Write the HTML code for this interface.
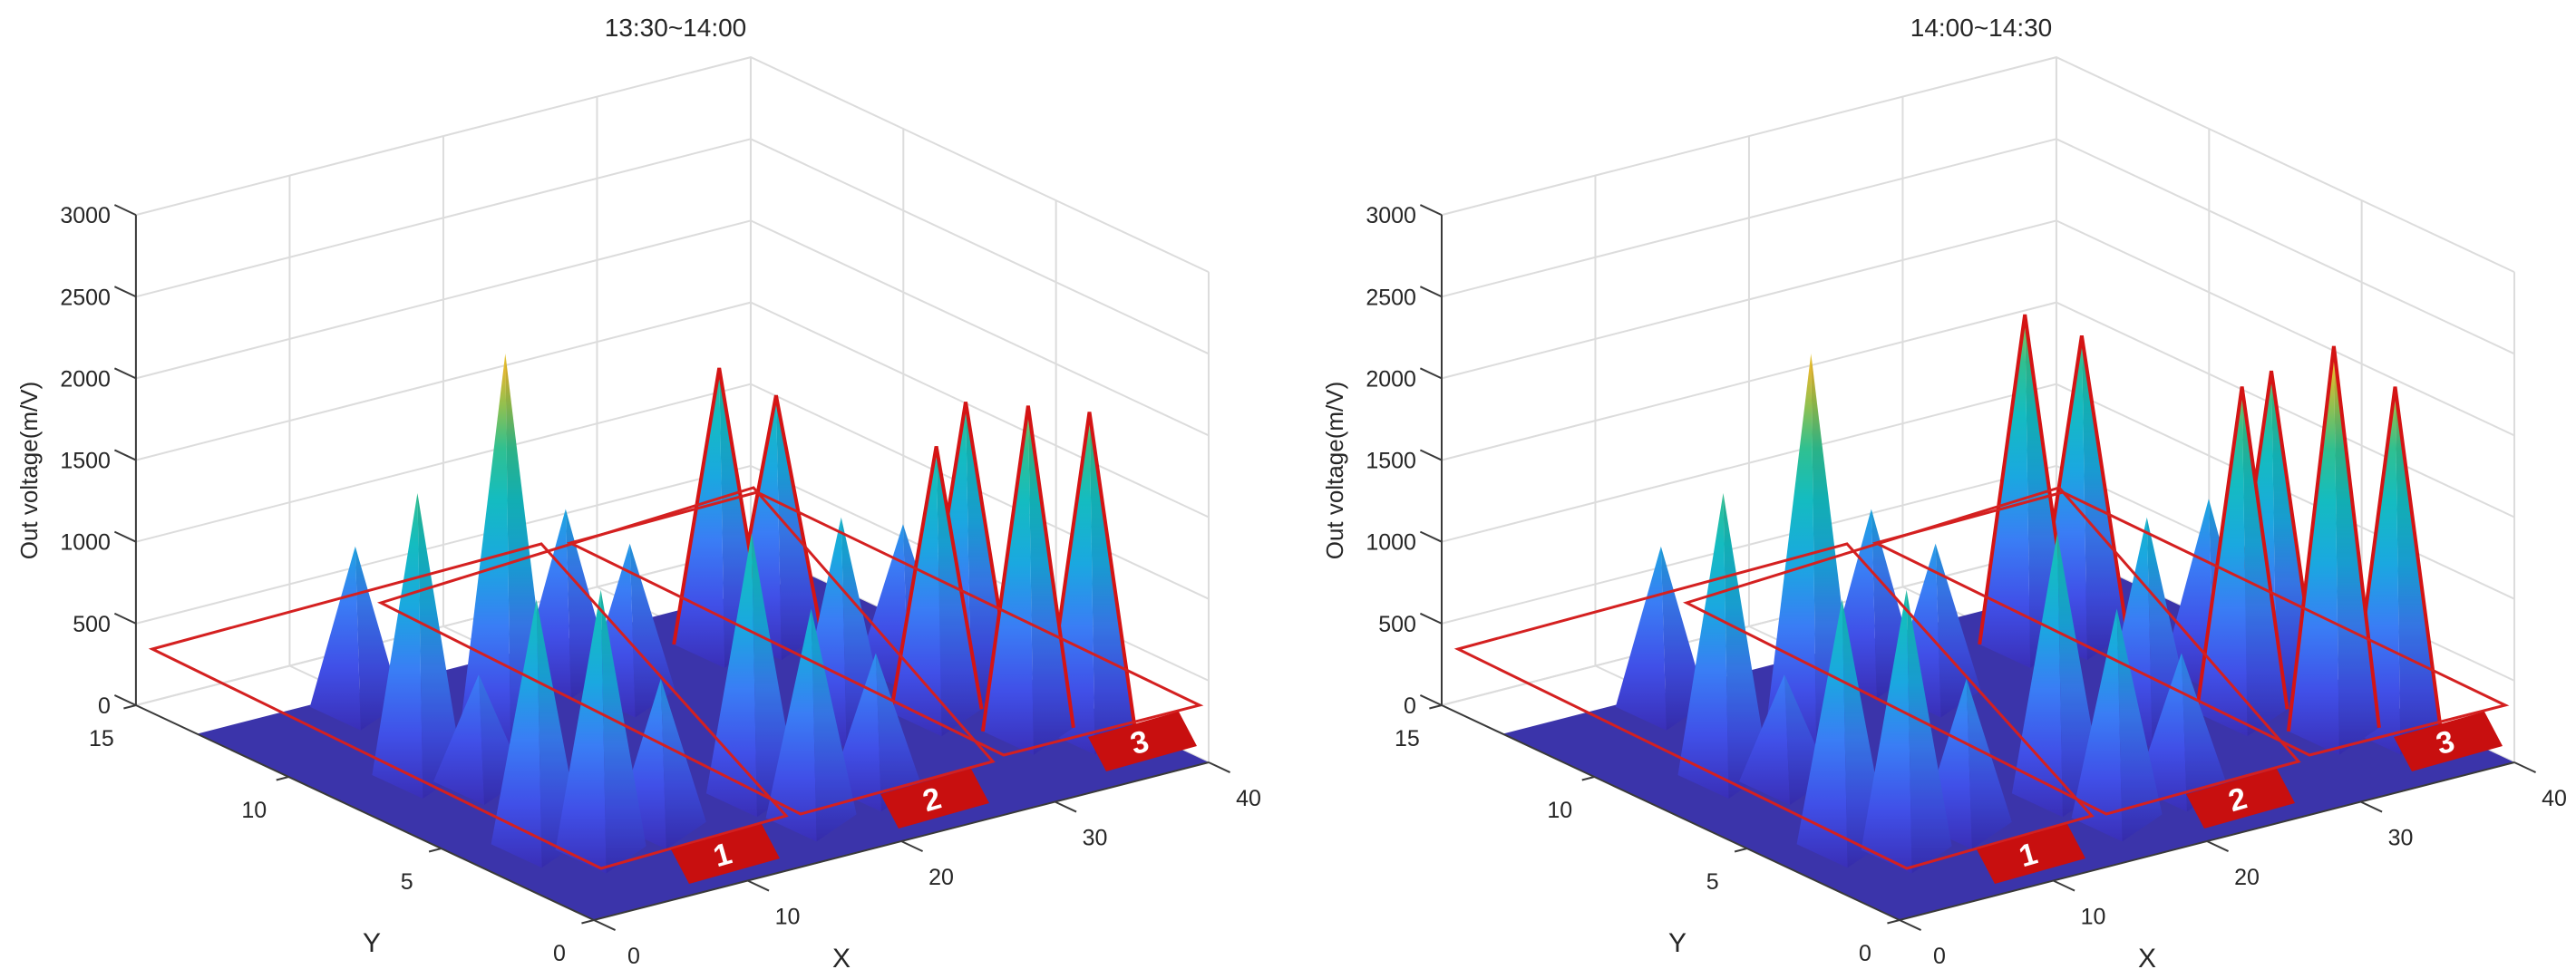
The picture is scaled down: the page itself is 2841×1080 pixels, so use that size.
<!DOCTYPE html>
<html>
<head>
<meta charset="utf-8">
<style>
  html, body { margin: 0; padding: 0; background: #ffffff; }
  svg { display: block; }
  text { font-family: "Liberation Sans", Arial, sans-serif; fill: #262626; }
</style>
</head>
<body>
<svg id="chart" width="2841" height="1080" viewBox="0 0 2841 1080" xmlns="http://www.w3.org/2000/svg">
  <defs id="defs"></defs>
</svg>
<script>
// ---- data ----
const panelTitles = ["13:30~14:00", "14:00~14:30"];
const peakX = [9.9, 6.4, 14.1, 21.6, 22.6, 5.2, 7.4, 12.1, 8.4, 30.8, 33.9, 18.8, 28.8, 36.4, 19.1, 24.5, 33.8, 37.3, 36.0, 38.6];
const peakY = [12.8, 9.0, 10.0, 11.8, 10.2, 4.5, 3.5, 3.9, 8.0, 11.4, 11.1, 4.3, 6.4, 8.2, 2.5, 3.1, 5.8, 6.6, 3.9, 3.2];
const zLeft = [926, 1669, 2250, 960, 865, 1442, 1536, 843, 599, 1636, 1420, 1536, 1209, 826, 1226, 771, 1575, 1692, 1936, 1897];
const zRight = [926, 1669, 2250, 960, 865, 1442, 1536, 843, 599, 1963, 1785, 1536, 1209, 981, 1226, 771, 1940, 1882, 2301, 2052];
const highlighted = [false, false, false, false, false, false, false, false, false, true, true, false, false, false, false, false, true, true, true, true];
const zTicks = [0, 500, 1000, 1500, 2000, 2500, 3000];
const xTicks = [0, 10, 20, 30, 40];
const yTicks = [0, 5, 10, 15];
const regionLabels = ["1", "2", "3"];

// ---- rendering ----
const NS = "http://www.w3.org/2000/svg";
const svg = document.getElementById("chart");
const defs = document.getElementById("defs");
const PANEL_OFFSETS = [0, 1440];
const CMAX = 2400;

function mk(tag, attrs, parent) {
  const e = document.createElementNS(NS, tag);
  for (const k in attrs) e.setAttribute(k, attrs[k]);
  if (parent) parent.appendChild(e);
  return e;
}
function projector(ox) {
  return function (X, Y, Z) {
    return [655 + ox + 16.95 * X - 33.67 * Y, 1015 - 4.35 * X - 15.8 * Y - 0.1803 * Z];
  };
}
function pts(arr) { return arr.map(p => p[0].toFixed(1) + "," + p[1].toFixed(1)).join(" "); }

const stops = [[0, "#3a2fb8"], [0.15, "#4050e8"], [0.3, "#3a7df5"], [0.45, "#1aa8e0"], [0.6, "#14bcc0"], [0.72, "#30c090"], [0.82, "#90c050"], [0.9, "#e0b830"], [1, "#f8e020"]];

PANEL_OFFSETS.forEach((ox, pi) => {
  const P = projector(ox);
  const zvals = pi === 0 ? zLeft : zRight;
  const g = mk("g", {}, svg);
  
  

  const grid = mk("g", { stroke: "#dcdcdc", "stroke-width": 2, fill: "none" }, g);
  
  
  zTicks.forEach(z => {
    const a = P(0, 15, z), b = P(40, 15, z), c = P(40, 0, z);
    mk("polyline", { points: pts([a, b, c]) }, grid);
  });
  xTicks.forEach(x => {
    mk("line", { x1: P(x, 15, 0)[0], y1: P(x, 15, 0)[1], x2: P(x, 15, 3000)[0], y2: P(x, 15, 3000)[1] }, grid);
    mk("line", { x1: P(x, 0, 0)[0], y1: P(x, 0, 0)[1], x2: P(x, 15, 0)[0], y2: P(x, 15, 0)[1] }, grid);
  });
  yTicks.forEach(y => {
    mk("line", { x1: P(40, y, 0)[0], y1: P(40, y, 0)[1], x2: P(40, y, 3000)[0], y2: P(40, y, 3000)[1] }, grid);
    mk("line", { x1: P(0, y, 0)[0], y1: P(0, y, 0)[1], x2: P(40, y, 0)[0], y2: P(40, y, 0)[1] }, grid);
  });

  const floor = mk("polygon", { points: pts([P(0, 0, 0), P(40, 0, 0), P(40, 13, 0), P(0, 13, 0)]), fill: "#3b34aa" }, g);
  
  

  const axes = mk("g", { stroke: "#3a3a3a", "stroke-width": 2, fill: "none" }, g);
  
  
  mk("polyline", { points: pts([P(0, 15, 3000), P(0, 15, 0)]) }, axes);
  mk("polyline", { points: pts([P(0, 15, 0), P(0, 0, 0), P(40, 0, 0)]) }, axes);

  const labels = mk("g", {}, g);
  zTicks.forEach(z => {
    const a = P(0, 15, z), b = P(0, 15.7, z);
    mk("line", { x1: a[0], y1: a[1], x2: b[0], y2: b[1], stroke: "#3a3a3a", "stroke-width": 2 }, axes);
    const t = mk("text", { x: a[0] - 28, y: a[1] + 9, "font-size": 25, "text-anchor": "end" }, labels);
    t.textContent = z;
    
    
  });
  yTicks.forEach(y => {
    const a = P(0, y, 0), b = P(-0.8, y, 0);
    mk("line", { x1: a[0], y1: a[1], x2: b[0], y2: b[1], stroke: "#3a3a3a", "stroke-width": 2 }, axes);
    const t = mk("text", { x: a[0] - 38, y: a[1] + 45, "font-size": 25, "text-anchor": "middle" }, labels);
    t.textContent = y;
    
    
  });
  xTicks.forEach(x => {
    const a = P(x, 0, 0), b = P(x, -0.7, 0);
    mk("line", { x1: a[0], y1: a[1], x2: b[0], y2: b[1], stroke: "#3a3a3a", "stroke-width": 2 }, axes);
    const t = mk("text", { x: a[0] + 44, y: a[1] + 48, "font-size": 25, "text-anchor": "middle" }, labels);
    t.textContent = x;
    
    
  });
  let t = mk("text", { x: 410 + ox, y: 1050, "font-size": 30, "text-anchor": "middle" }, labels);
  t.textContent = "Y";
  
  
  t = mk("text", { x: 928 + ox, y: 1067, "font-size": 30, "text-anchor": "middle" }, labels);
  t.textContent = "X";
  
  
  t = mk("text", { x: 0, y: 0, "font-size": 26, "text-anchor": "middle", transform: "translate(" + (41 + ox) + ",519) rotate(-90)" }, labels);
  t.textContent = "Out voltage(m/V)";
  
  
  t = mk("text", { x: 745 + ox, y: 40, "font-size": 28, "text-anchor": "middle" }, labels);
  t.textContent = panelTitles[pi];
  
  

  const order = peakX.map((_, i) => i).sort((a, b) => P(peakX[a], peakY[a], 0)[1] - P(peakX[b], peakY[b], 0)[1]);
  const peaksG = mk("g", {}, g);
  
  
  order.forEach(i => {
    const G = P(peakX[i], peakY[i], 0);
    const A = P(peakX[i], peakY[i], zvals[i]);
    const top = P(peakX[i], peakY[i], CMAX);
    const gid = "grad-" + pi + "-" + i;
    const lg = mk("linearGradient", { id: gid, gradientUnits: "userSpaceOnUse", x1: 0, y1: G[1] + 36, x2: 0, y2: top[1] }, defs);
    stops.forEach(s => mk("stop", { offset: s[0], "stop-color": s[1] }, lg));
    const L = [G[0] - 50, G[1] + 10], R = [G[0] + 50, G[1] + 6], B = [G[0] + 6, G[1] + 36];
    const left = mk("polygon", { points: pts([A, L, B]), fill: "url(#" + gid + ")" }, peaksG);
    
    
    const right = mk("polygon", { points: pts([A, B, R]), fill: "url(#" + gid + ")" }, peaksG);
    
    
    mk("polygon", { points: pts([A, B, R]), fill: "#000", opacity: 0.07 }, peaksG);
    if (highlighted[i]) {
      const o = mk("polyline", { points: pts([L, A, R]), fill: "none", stroke: "#d41414", "stroke-width": 4, "stroke-linejoin": "miter" }, peaksG);
      
      
    }
  });

  const boxes = [
    [[168, 716], [597, 600], [867, 900], [663, 958]],
    [[420, 665], [831, 538], [1095, 840], [883, 898]],
    [[629, 599], [835, 543], [1323, 778], [1107, 833]]
  ];
  const badges = [[800, 942], [1031, 881], [1260, 818]];
  boxes.forEach((bx, bi) => {
    const poly = mk("polygon", { points: pts(bx.map(p => [p[0] + ox, p[1]])), fill: "none", stroke: "#d42020", "stroke-width": 3 }, g);
    
    
  });
  badges.forEach((c, bi) => {
    const cx = c[0] + ox, cy = c[1];
    const u = [50, -14], v = [10, 19];
    const corners = [[cx - u[0] - v[0], cy - u[1] - v[1]], [cx + u[0] - v[0], cy + u[1] - v[1]], [cx + u[0] + v[0], cy + u[1] + v[1]], [cx - u[0] + v[0], cy - u[1] + v[1]]];
    const bg = mk("polygon", { points: pts(corners), fill: "#c80f0f" }, g);
    
    
    const tx = mk("text", { x: 0, y: 0, "font-size": 34, "font-weight": "bold", "text-anchor": "middle", transform: "translate(" + cx + "," + (cy + 12) + ") rotate(-16)", style: "fill:#ffffff" }, g);
    tx.textContent = regionLabels[bi];
    
    
  });
});
</script>
</body>
</html>
